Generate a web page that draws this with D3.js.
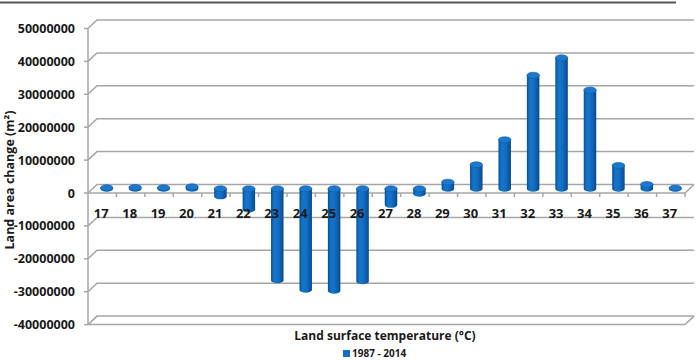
<!DOCTYPE html>
<html>
<head>
<meta charset="utf-8">
<script src="https://cdn.jsdelivr.net/npm/d3@7"></script>
<style>
  body { margin: 0; background: #fff; }
  svg { display: block; font-family: "Open Sans", "Noto Sans", sans-serif; }
</style>
</head>
<body>
<div id="chart"></div>
<script>
// temperature classes (°C)
const categories = ["17", "18", "19", "20", "21", "22", "23", "24", "25", "26", "27",
  "28", "29", "30", "31", "32", "33", "34", "35", "36", "37"];
// land area change 1987 - 2014 (m²)
const values = [300000, 400000, 300000, 600000, -2300000, -6300000, -27800000,
  -30700000, -31000000, -28100000, -4900000, -1500000, 2000000, 7300000,
  14900000, 34500000, 39800000, 30000000, 7100000, 1300000, 200000];
const yTicks = [50000000, 40000000, 30000000, 20000000, 10000000, 0,
  -10000000, -20000000, -30000000, -40000000];
const seriesName = "1987 - 2014";

const width = 698, height = 361;
const depth = { dx: 9, dy: -8.5 };
const gridColor = "#a6a6a6";

const svg = d3.select("#chart").append("svg")
  .attr("width", width)
  .attr("height", height);

const defs = svg.append("defs");
const grad = defs.append("linearGradient").attr("id", "cyl")
  .attr("x1", "0%").attr("x2", "100%").attr("y1", "0%").attr("y2", "0%");
[["0%", "#0a4f98"], ["25%", "#1276cc"], ["55%", "#136fc4"], ["100%", "#0a4a8e"]]
  .forEach(s => grad.append("stop").attr("offset", s[0]).attr("stop-color", s[1]));

const x = d3.scaleBand()
  .domain(categories)
  .range([88, 685])
  .paddingInner(0.56)
  .paddingOuter(0.28);

const y = d3.scaleLinear()
  .domain([-40000000, 50000000])
  .range([324.6, 28.5]);

// top rule
svg.append("line")
  .attr("x1", 0).attr("x2", 676)
  .attr("y1", 2.5).attr("y2", 2.5)
  .attr("stroke", "#555").attr("stroke-width", 2);

const x0 = x.range()[0], x1 = x.range()[1];

// back wall gridlines + side wall diagonals
const grid = svg.append("g").attr("stroke", gridColor).attr("stroke-width", 1.5).attr("fill", "none");
yTicks.forEach(t => {
  const yf = y(t);
  grid.append("path")
    .attr("d", `M${x0},${yf}L${x0 + depth.dx},${yf + depth.dy}L${x1 + depth.dx},${yf + depth.dy}`);
});

// floors (front edges) at 0 and at the minimum
[0, -40000000].forEach(t => {
  const yf = y(t);
  grid.append("path")
    .attr("d", `M${x0},${yf}L${x1},${yf}L${x1 + depth.dx},${yf + depth.dy}`);
});

// y axis
grid.append("line")
  .attr("x1", x0).attr("x2", x0)
  .attr("y1", y(50000000)).attr("y2", y(-40000000));
yTicks.forEach(t => {
  grid.append("line")
    .attr("x1", x0 - 4).attr("x2", x0)
    .attr("y1", y(t)).attr("y2", y(t));
});

// category ticks on the zero floor
categories.forEach((c, i) => {
  const xb = x0 + x.step() * (i + 1);
  grid.append("line")
    .attr("x1", xb).attr("x2", xb)
    .attr("y1", y(0)).attr("y2", y(0) + 4);
});

// y tick labels
svg.append("g")
  .selectAll("text")
  .data(yTicks)
  .join("text")
  .attr("x", 75)
  .attr("y", d => y(d))
  .attr("dy", "0.36em")
  .attr("text-anchor", "end")
  .attr("font-size", 12.5)
  .attr("font-weight", 700)
  .attr("fill", "#1a1a1a")
  .text(d => d);

// bars as cylinders at mid depth
const mid = v => y(v) + depth.dy / 2;
const rx = x.bandwidth() / 2, ry = 3;
const bars = svg.append("g");
categories.forEach((c, i) => {
  const v = values[i];
  const cx = x(c) + x.bandwidth() / 2 + depth.dx / 2;
  const yTop = Math.min(mid(v), mid(0));
  const yBot = Math.max(mid(v), mid(0));
  const g = bars.append("g");
  g.append("path")
    .attr("d", `M${cx - rx},${yTop}L${cx - rx},${yBot}A${rx},${ry} 0 0 0 ${cx + rx},${yBot}L${cx + rx},${yTop}Z`)
    .attr("fill", "url(#cyl)");
  g.append("ellipse")
    .attr("cx", cx).attr("cy", yTop)
    .attr("rx", rx).attr("ry", ry)
    .attr("fill", "#1c78cc")
    .attr("stroke", "#0b5aa6").attr("stroke-width", 0.6);
});

// category labels
svg.append("g")
  .selectAll("text")
  .data(categories)
  .join("text")
  .attr("x", d => x(d) + x.bandwidth() / 2 - 1)
  .attr("y", 218)
  .attr("text-anchor", "middle")
  .attr("font-size", 13)
  .attr("font-weight", 700)
  .attr("fill", "#1a1a1a")
  .text(d => d);

// axis titles
svg.append("text")
  .attr("x", 385)
  .attr("y", 340)
  .attr("text-anchor", "middle")
  .attr("font-size", 12)
  .attr("font-weight", 700)
  .attr("fill", "#1a1a1a")
  .text("Land surface temperature (°C)");

svg.append("text")
  .attr("transform", "translate(14,180) rotate(-90)")
  .attr("text-anchor", "middle")
  .attr("font-size", 12.5)
  .attr("font-weight", 700)
  .attr("fill", "#1a1a1a")
  .text("Land area change (m²)");

// legend at the bottom edge
const legend = svg.append("g");
legend.append("rect")
  .attr("x", 343).attr("y", 350)
  .attr("width", 7).attr("height", 7)
  .attr("fill", "#136fc4");
legend.append("text")
  .attr("x", 352).attr("y", 357)
  .attr("font-size", 10)
  .attr("font-weight", 700)
  .attr("fill", "#1a1a1a")
  .text(seriesName);
</script>
</body>
</html>
